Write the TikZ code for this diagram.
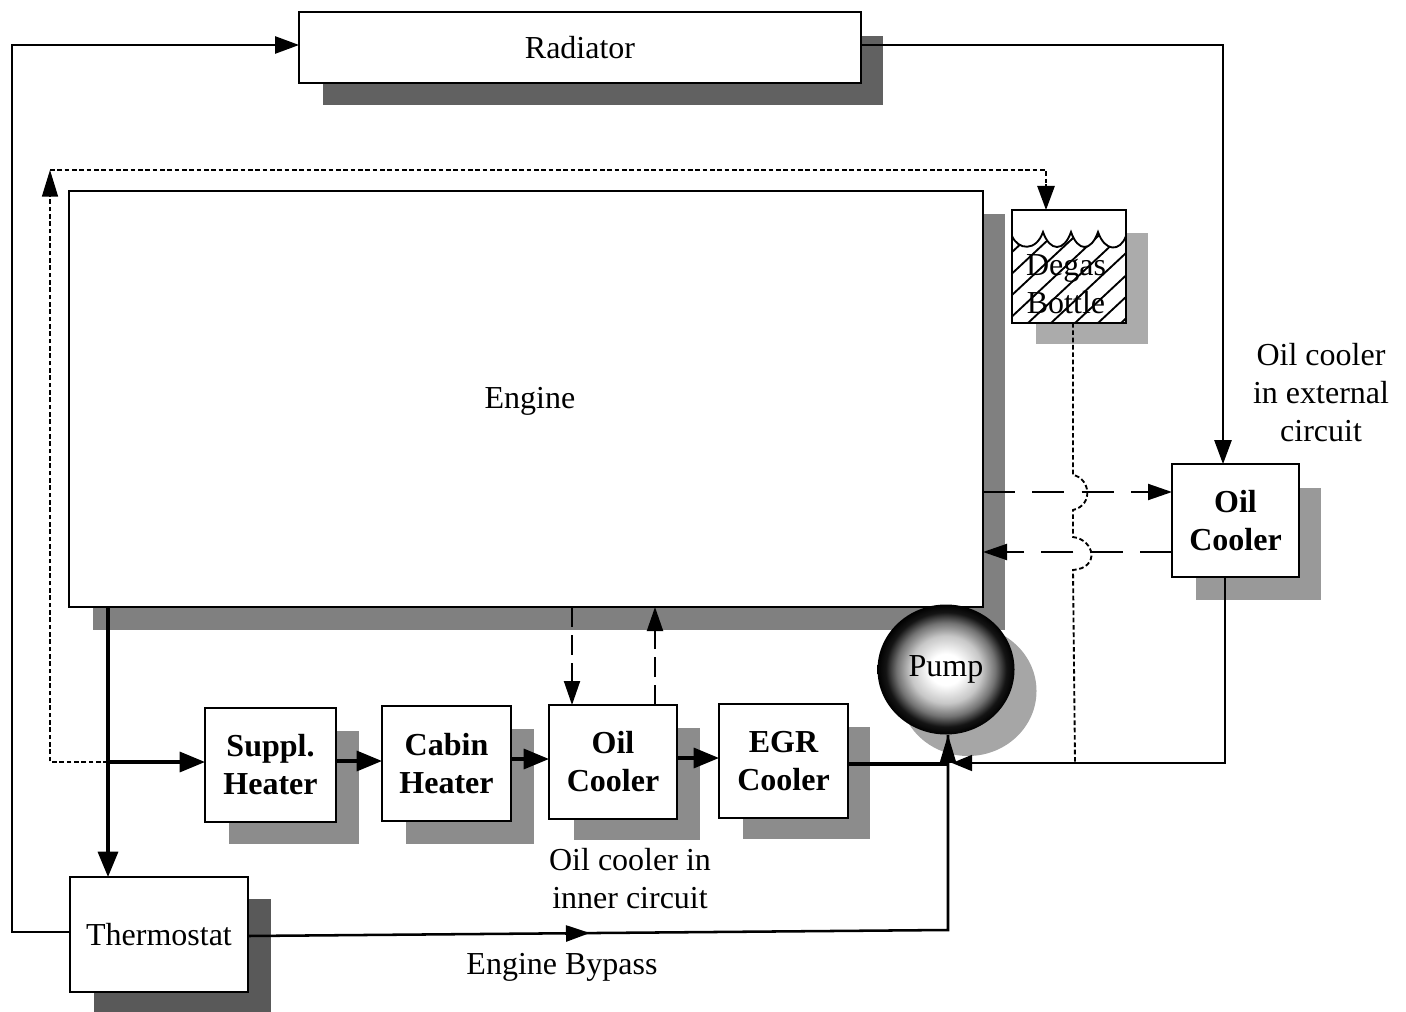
\documentclass[tikz,border=0pt]{standalone}
\usepackage{fontspec}
\setmainfont{Liberation Serif}
\usetikzlibrary{arrows.meta,shapes.geometric}
\pgfdeclareradialshading{pumpball}{\pgfpointorigin}{color(0bp)=(white);color(6bp)=(white);color(13bp)=(black!22);color(18bp)=(black!55);color(22bp)=(black!92);color(25bp)=(black);color(50bp)=(black)}
\tikzset{
  block/.style={draw=black,fill=white,line width=1.5pt,inner sep=0pt,outer sep=0pt,align=center,font=\fontsize{24}{28.5}\selectfont},
  boldblock/.style={block,font=\fontsize{24}{28.5}\selectfont\bfseries},
  shadowbox/.style={inner sep=0pt,outer sep=0pt},
  caption/.style={align=center,inner sep=0pt,font=\fontsize{24}{28.5}\selectfont},
  thin line/.style={line width=1.2pt},
  thick line/.style={line width=2.5pt},
  dotted line/.style={line width=1.4pt,dash pattern=on 3.5pt off 2pt},
  long dash/.style={line width=1.5pt,dash pattern=on 24pt off 13pt},
  short dash/.style={line width=1.5pt,dash pattern=on 15pt off 6pt},
  tip/.style={-{Triangle[length=18pt,width=13pt]}},
  big tip/.style={-{Triangle[length=19pt,width=15pt]}},
}
\newcommand{\bx}[8]{% style, name, x1,y1,x2,y2, text
  \node[#1,minimum width=(#5-#3)*0.75pt,minimum height=(#6-#4)*0.75pt,#8] (#2) at ({(#3+#5)/2},{(#4+#6)/2}) {#7};}
\begin{document}
\begin{tikzpicture}[x=0.75pt,y=-0.75pt]
\useasboundingbox (0,0) rectangle (1406,1012);
% shadows
\bx{shadowbox}{sRad}{323}{36}{883}{105}{}{fill=black!62}
\bx{shadowbox}{sEng}{93}{214}{1005}{630}{}{fill=black!50}
\bx{shadowbox}{sDeg}{1036}{233}{1148}{344}{}{fill=black!33}
\bx{shadowbox}{sExt}{1196}{488}{1321}{600}{}{fill=black!40}
\bx{shadowbox}{sSup}{229}{731}{359}{844}{}{fill=black!45}
\bx{shadowbox}{sCab}{406}{729}{534}{844}{}{fill=black!45}
\bx{shadowbox}{sOil}{574}{728}{700}{840}{}{fill=black!45}
\bx{shadowbox}{sEgr}{743}{727}{870}{839}{}{fill=black!45}
\bx{shadowbox}{sThe}{94}{899}{271}{1012}{}{fill=black!65}
\node[ellipse,fill=black!35,minimum width=137*0.75pt,minimum height=130*0.75pt,inner sep=0pt] (sPump) at (968,691) {};
% blocks
\bx{block}{radiator}{299}{12}{861}{83}{\raisebox{0.7pt}{Radiator}}{}
\bx{block}{engine}{69}{191}{983}{607}{}{}
\node[caption] (enginetext) at (530,401) {Engine};
\bx{block}{degas}{1012}{210}{1126}{323}{}{}
\bx{boldblock}{extoil}{1172}{465}{1299}{578}{Oil\\Cooler}{yshift=0.7pt}
\bx{boldblock}{suppl}{205}{708}{336}{822}{Suppl.\\Heater}{}
\bx{boldblock}{cabin}{382}{706}{511}{821}{Cabin\\Heater}{}
\bx{boldblock}{inoil}{549}{705}{677}{819}{Oil\\Cooler}{}
\bx{boldblock}{egr}{719}{704}{848}{818}{EGR\\Cooler}{}
\bx{block}{thermo}{70}{877}{248}{992}{Thermostat}{}
% degas water and hatching
\begin{scope}
\clip (1012,236) .. controls (1018,250) and (1036,252) .. (1043,232)
  .. controls (1050,252) and (1064,252) .. (1071,232)
  .. controls (1078,252) and (1091,252) .. (1098,232)
  .. controls (1105,252) and (1120,252) .. (1126,236)
  -- (1126,323) -- (1012,323) -- cycle;
\foreach \hx in {936,959,982,1005,1028,1051,1075,1098,1121}
  \draw[line width=1.4pt] (\hx,323) -- ++(135,-126);
\end{scope}
\draw[line width=1.4pt] (1012,236) .. controls (1018,250) and (1036,252) .. (1043,232)
  .. controls (1050,252) and (1064,252) .. (1071,232)
  .. controls (1078,252) and (1091,252) .. (1098,232)
  .. controls (1105,252) and (1120,252) .. (1126,236);
\node[caption] (degastext) at (1066,284) {Degas\\Bottle};
% pump
\node[ellipse,shading=pumpball,minimum width=137*0.75pt,minimum height=130*0.75pt,inner sep=0pt,font=\fontsize{24}{28.5}\selectfont] (pump) at (946,669.5) {\raisebox{-2.2pt}{Pump}};
% captions
\node[caption] (capext) at (1321,392.5) {Oil cooler\\in external\\circuit};
\node[caption] (capin) at (630,879) {Oil cooler in\\inner circuit};
\node[caption] (capby) at (562,967) {Engine Bypass};
% bend coordinates
\coordinate (tl) at (12,932);
\coordinate (tltop) at (12,45);
\coordinate (rr) at (1223,45);
\coordinate (junc) at (108,762);
\coordinate (dl) at (50,762);
\coordinate (dtop) at (50,170);
\coordinate (dtopr) at (1046,170);
\coordinate (ob) at (1225,763);
\coordinate (pj) at (952,763);
\coordinate (byp) at (948,930);
\coordinate (bypmid) at (590,933);
\coordinate (dv) at (1073,323);
\coordinate (dvend) at (1075,762);
% solid thin connectors
\draw[thin line,tip] (tl -| thermo.west) -- (tl) -- (tltop) -- (tltop -| radiator.west);
\draw[thin line,tip] (rr -| radiator.east) -- (rr) -- (rr |- extoil.north);
\draw[thin line,-{Triangle[length=15pt,width=12pt]}] (ob |- extoil.south) -- (ob) -- (pj);
% dotted connectors
\draw[dotted line] (junc) -- (dl) -- (50,197);
\draw[line width=1.2pt,-{Triangle[length=20pt,width=12pt]}] (50,197) -- (dtop);
\draw[dotted line] (dtop) -- (dtopr) -- (1046,186);
\draw[line width=1.2pt,tip] (1046,184) -- (dtopr |- degas.north);
\draw[dotted line] (dv) -- (1073,475) .. controls (1090,478) and (1094,505) .. (1073,510)
  -- (1073,537) .. controls (1095,540) and (1100,568) .. (1073,570) -- (dvend);
% thick connectors
\draw[thick line,big tip] (junc |- engine.south) -- (junc |- thermo.north);
\draw[thick line,big tip] (junc) -- (junc -| suppl.west);
\draw[thick line,big tip] (suppl.east |- 0,761) -- (cabin.west |- 0,761);
\draw[thick line,big tip] (cabin.east |- 0,759) -- (inoil.west |- 0,759);
\draw[thick line,big tip] (inoil.east |- 0,758) -- (egr.west |- 0,758);
\draw[thick line] (egr.east |- 0,764) -- (byp |- 0,764);
\draw[line width=1.9pt] (thermo.east |- 0,936) -- (byp) -- (pump.south -| byp);
\draw[line width=1.9pt,-{Triangle[length=21pt,width=12pt]}] (byp |- 0,765) -- (pump.south -| byp);
\draw[line width=1.9pt,-{Triangle[length=18pt,width=12pt]}] (565,933.5) -- (bypmid);
% dashed connectors
\draw[long dash,-{Triangle[length=18pt,width=12pt]}] (engine.east |- 0,492) -- (extoil.west |- 0,492);
\draw[long dash,-{Triangle[length=18pt,width=12pt]}] (extoil.west |- 0,552) -- (engine.east |- 0,552);
\draw[short dash,-{Triangle[length=18pt,width=12pt]}] (572,607) -- (572,705);
\draw[short dash,-{Triangle[length=18pt,width=12pt]}] (655,705) -- (655,607);
\end{tikzpicture}
\end{document}
